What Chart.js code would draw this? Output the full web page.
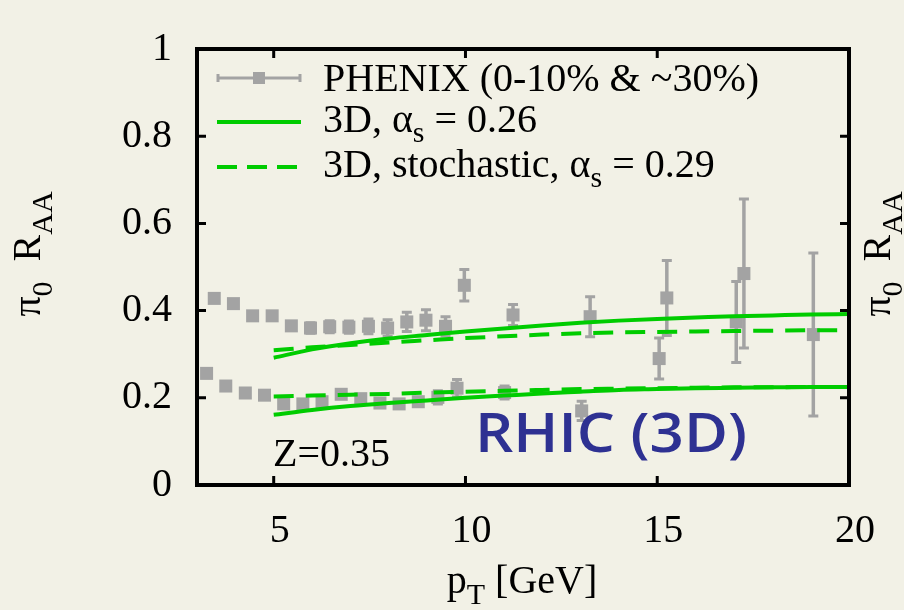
<!DOCTYPE html>
<html>
<head>
<meta charset="utf-8">
<script src="https://cdn.jsdelivr.net/npm/chart.js@4.4.0/dist/chart.umd.min.js"></script>
<style>
  html, body { margin: 0; padding: 0; background: #f2f1e6; }
  #wrap { width: 904px; height: 610px; }
</style>
</head>
<body>
<div id="wrap"><canvas id="raaChart" width="904" height="610"></canvas></div>
<script>
// pi0 R_AA at RHIC, PHENIX data vs 3D model curves
const SERIF = '"Liberation Serif", "DejaVu Serif", serif';
const GREEN = '#00cc00';
const GRAY = '#a3a3a3';

const xTicks = [5, 10, 15, 20];
const yTicks = [0, 0.2, 0.4, 0.6, 0.8, 1];

// PHENIX points (~30% centrality, upper band)
const upperX = [3.45, 3.95, 4.45, 4.96, 5.46, 5.96, 6.46, 6.96, 7.47, 7.97, 8.47, 8.97, 9.48, 9.97, 11.24, 13.25, 15.25, 17.26];
const upperY = [0.428, 0.416, 0.388, 0.388, 0.365, 0.360, 0.363, 0.362, 0.364, 0.360, 0.374, 0.378, 0.364, 0.458, 0.390, 0.386, 0.429, 0.485];
const upperErr = [0.005, 0.005, 0.005, 0.005, 0.008, 0.012, 0.014, 0.014, 0.017, 0.019, 0.022, 0.024, 0.022, 0.036, 0.024, 0.046, 0.086, 0.171];

// PHENIX points (0-10% centrality, lower band)
const lowerX = [3.25, 3.75, 4.26, 4.76, 5.26, 5.76, 6.26, 6.76, 7.27, 7.77, 8.27, 8.77, 9.28, 9.78, 11.02, 13.03, 15.05, 17.06, 19.07];
const lowerY = [0.256, 0.227, 0.211, 0.206, 0.186, 0.186, 0.191, 0.208, 0.198, 0.188, 0.186, 0.191, 0.201, 0.222, 0.212, 0.170, 0.290, 0.374, 0.345];
const lowerErr = [0.005, 0.005, 0.005, 0.005, 0.005, 0.005, 0.005, 0.008, 0.008, 0.008, 0.008, 0.01, 0.015, 0.02, 0.015, 0.022, 0.047, 0.093, 0.187];

// model curves
const curveX = [5, 6, 7, 8, 9, 10, 11, 12, 13, 14, 15, 16, 17, 18, 19, 20];
const upperSolid = [0.292, 0.311, 0.325, 0.336, 0.344, 0.352, 0.359, 0.366, 0.372, 0.377, 0.381, 0.384, 0.387, 0.389, 0.391, 0.392];
const upperDashed = [0.309, 0.316, 0.321, 0.327, 0.332, 0.337, 0.341, 0.345, 0.348, 0.350, 0.351, 0.352, 0.353, 0.354, 0.355, 0.355];
const lowerSolid = [0.161, 0.172, 0.181, 0.188, 0.194, 0.200, 0.205, 0.210, 0.214, 0.218, 0.220, 0.222, 0.223, 0.224, 0.225, 0.225];
const lowerDashed = [0.203, 0.205, 0.207, 0.209, 0.212, 0.214, 0.216, 0.218, 0.220, 0.221, 0.222, 0.223, 0.224, 0.224, 0.225, 0.225];

const pts = (xs, ys) => xs.map((x, i) => ({ x: x, y: ys[i] }));

function curve(ys, dashed) {
    return {
        type: 'line',
        data: pts(curveX, ys),
        borderColor: GREEN,
        borderWidth: 4,
        borderDash: dashed ? [20, 12] : [],
        pointRadius: 0,
        cubicInterpolationMode: 'monotone',
        fill: false
    };
}

function phenix(xs, ys, errs) {
    return {
        type: 'scatter',
        data: pts(xs, ys),
        errors: errs,
        pointStyle: 'rect',
        pointRadius: 9.2,
        pointBackgroundColor: GRAY,
        pointBorderWidth: 0,
        pointHoverRadius: 9.2
    };
}

// draws text with subscripts, parts = [{t, sub}]
function richWidth(ctx, parts, size, subSize) {
    let w = 0;
    parts.forEach(p => {
        ctx.font = (p.sub ? subSize : size) + 'px ' + SERIF;
        w += ctx.measureText(p.t).width;
    });
    return w;
}
function drawRich(ctx, parts, x, y, size, subSize, subDrop) {
    let cx = x;
    parts.forEach(p => {
        ctx.font = (p.sub ? subSize : size) + 'px ' + SERIF;
        ctx.fillText(p.t, cx, p.sub ? y + subDrop : y);
        cx += ctx.measureText(p.t).width;
    });
}

const errorBars = {
    id: 'errorBars',
    beforeDatasetsDraw(chart) {
        const ctx = chart.ctx;
        const ys = chart.scales.y;
        ctx.save();
        ctx.strokeStyle = GRAY;
        chart.data.datasets.forEach((ds, di) => {
            if (!ds.errors) return;
            const meta = chart.getDatasetMeta(di);
            meta.data.forEach((el, i) => {
                const v = ds.data[i].y;
                const e = ds.errors[i];
                const top = ys.getPixelForValue(v + e);
                const bot = ys.getPixelForValue(v - e);
                ctx.lineWidth = 3.5;
                ctx.beginPath();
                ctx.moveTo(el.x, top);
                ctx.lineTo(el.x, bot);
                ctx.stroke();
                ctx.lineWidth = 3;
                ctx.beginPath();
                ctx.moveTo(el.x - 5, top); ctx.lineTo(el.x + 5, top);
                ctx.moveTo(el.x - 5, bot); ctx.lineTo(el.x + 5, bot);
                ctx.stroke();
            });
        });
        ctx.restore();
    }
};

const frameAndText = {
    id: 'frameAndText',
    beforeDraw(chart) {
        const ctx = chart.ctx;
        ctx.save();
        ctx.fillStyle = '#f2f1e6';
        ctx.fillRect(0, 0, chart.width, chart.height);
        ctx.restore();
    },
    afterDraw(chart) {
        const ctx = chart.ctx;
        const a = chart.chartArea;
        const xs = chart.scales.x, ys = chart.scales.y;
        ctx.save();
        // frame
        ctx.strokeStyle = '#000';
        ctx.lineWidth = 4;
        ctx.strokeRect(a.left, a.top, a.right - a.left, a.bottom - a.top);
        // inner ticks
        ctx.lineWidth = 3;
        ctx.beginPath();
        yTicks.forEach(v => {
            const py = ys.getPixelForValue(v);
            ctx.moveTo(a.left, py); ctx.lineTo(a.left + 9, py);
            ctx.moveTo(a.right, py); ctx.lineTo(a.right - 9, py);
        });
        xTicks.forEach(v => {
            const px = xs.getPixelForValue(v);
            ctx.moveTo(px, a.bottom); ctx.lineTo(px, a.bottom - 9);
            ctx.moveTo(px, a.top); ctx.lineTo(px, a.top + 9);
        });
        ctx.stroke();

        // legend
        ctx.lineCap = 'butt';
        ctx.strokeStyle = GRAY;
        ctx.lineWidth = 3;
        ctx.beginPath();
        ctx.moveTo(217, 78); ctx.lineTo(301, 78);
        ctx.moveTo(218, 74); ctx.lineTo(218, 82);
        ctx.moveTo(300, 74); ctx.lineTo(300, 82);
        ctx.stroke();
        ctx.fillStyle = GRAY;
        ctx.fillRect(253, 72, 12, 12);

        ctx.strokeStyle = GREEN;
        ctx.lineWidth = 4;
        ctx.beginPath();
        ctx.moveTo(217, 122); ctx.lineTo(301, 122);
        ctx.stroke();
        ctx.setLineDash([20, 10]);
        ctx.beginPath();
        ctx.moveTo(217, 167); ctx.lineTo(301, 167);
        ctx.stroke();
        ctx.setLineDash([]);

        ctx.fillStyle = '#000';
        ctx.textAlign = 'left';
        ctx.textBaseline = 'alphabetic';
        drawRich(ctx, [{ t: 'PHENIX (0-10% & ~30%)' }], 323, 91, 40, 30, 10);
        drawRich(ctx, [{ t: '3D, α' }, { t: 's', sub: true }, { t: ' = 0.26' }], 323, 132, 40, 30, 10);
        drawRich(ctx, [{ t: '3D, stochastic, α' }, { t: 's', sub: true }, { t: ' = 0.29' }], 323, 177, 40, 30, 10);

        // annotations
        drawRich(ctx, [{ t: 'Z=0.35' }], 273, 466, 40, 30, 10);
        ctx.fillStyle = '#2e3192';
        ctx.font = '600 54px "Open Sans", Lato, sans-serif';
        const rw = ctx.measureText('RHIC (3D)').width;
        ctx.save();
        ctx.translate(475, 452);
        ctx.scale(272 / rw, 1);
        ctx.fillText('RHIC (3D)', 0, 0);
        ctx.restore();

        // axis titles
        ctx.fillStyle = '#000';
        const xt = [{ t: 'p' }, { t: 'T', sub: true }, { t: ' [GeV]' }];
        const xw = richWidth(ctx, xt, 40, 30);
        drawRich(ctx, xt, 522 - xw / 2, 593, 40, 30, 11);

        const yt = [{ t: 'π' }, { t: '0', sub: true }, { t: '  R' }, { t: 'AA', sub: true }];
        const yw = richWidth(ctx, yt, 40, 30);
        [40, 890].forEach(bx => {
            ctx.save();
            ctx.translate(bx, 254);
            ctx.rotate(-Math.PI / 2);
            drawRich(ctx, yt, -yw / 2, 0, 40, 30, 12);
            ctx.restore();
        });
        ctx.restore();
    }
};

new Chart(document.getElementById('raaChart'), {
    data: {
        datasets: [
            curve(upperSolid, false),
            curve(upperDashed, true),
            curve(lowerSolid, false),
            curve(lowerDashed, true),
            phenix(upperX, upperY, upperErr),
            phenix(lowerX, lowerY, lowerErr)
        ]
    },
    options: {
        responsive: false,
        animation: false,
        devicePixelRatio: 1,
        layout: { padding: { top: 23, right: 55, left: 0, bottom: 0 } },
        plugins: { legend: { display: false }, tooltip: { enabled: false } },
        scales: {
            x: {
                type: 'linear',
                min: 3,
                max: 20,
                afterFit: s => { s.height = 125; },
                afterBuildTicks: s => { s.ticks = xTicks.map(v => ({ value: v })); },
                grid: { display: false, drawTicks: false },
                border: { display: false },
                ticks: { color: '#000', font: { family: SERIF, size: 40 }, padding: 22, labelOffset: 6, maxRotation: 0 }
            },
            y: {
                type: 'linear',
                min: 0,
                max: 1,
                afterFit: s => { s.width = 197; },
                afterBuildTicks: s => { s.ticks = yTicks.map(v => ({ value: v })); },
                grid: { display: false, drawTicks: false },
                border: { display: false },
                ticks: { color: '#000', font: { family: SERIF, size: 40 }, padding: 25, callback: v => String(v) }
            }
        }
    },
    plugins: [errorBars, frameAndText]
});
</script>
</body>
</html>
